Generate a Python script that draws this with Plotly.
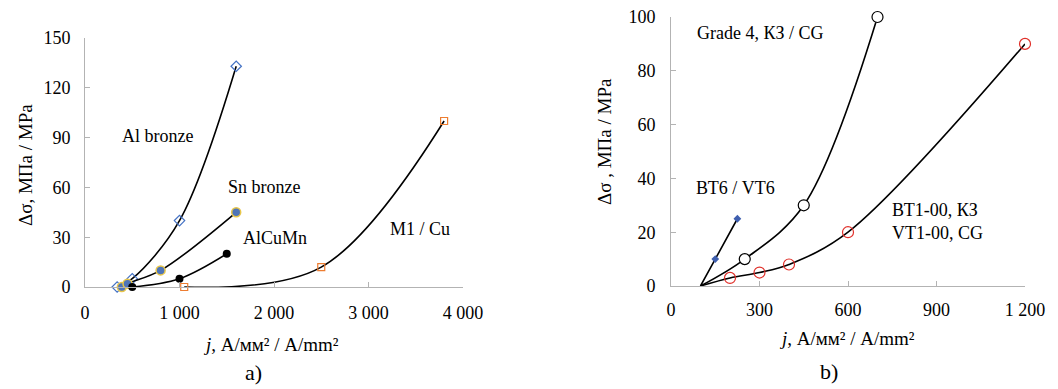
import plotly.graph_objects as go

# ---- left panel data (a) ----
al_j = [340, 500, 1000, 1600]
al_s = [0, 5, 40, 133]
sn_j = [390, 450, 800, 1600]
sn_s = [0, 2, 10, 45]
acm_j = [500, 1000, 1500]
acm_s = [0, 5, 20]
cu_j = [1050, 2500, 3800]
cu_s = [0, 12, 100]

# ---- right panel data (b) ----
vt6_j = [100, 150, 225]
vt6_s = [0, 10, 25]
g4_j = [100, 250, 450, 700]
g4_s = [0, 10, 30, 100]
vt1_j = [100, 200, 300, 400, 600, 1200]
vt1_s = [0, 3, 5, 8, 20, 90]

left_ticks = [0, 30, 60, 90, 120, 150]
left_xticks = [0, 1000, 2000, 3000, 4000]
right_ticks = [0, 20, 40, 60, 80, 100]
right_xticks = [0, 300, 600, 900, 1200]

W, H, OFF = 1058, 389, 8  # page body margin offset


def px(p):
    return (p - OFF) / W


def py(p):
    return (H - (p - OFF)) / H


FONT = "Liberation Serif"
LINE = dict(color="black", width=1.6, shape="spline", smoothing=1.0)

fig = go.Figure()


def curve(x, y, xa, ya, marker, skip_first=False):
    fig.add_trace(go.Scatter(x=x, y=y, mode="lines", line=LINE, xaxis=xa, yaxis=ya,
                             showlegend=False, hoverinfo="skip", cliponaxis=False))
    mx = x[1:] if skip_first else x
    my = y[1:] if skip_first else y
    fig.add_trace(go.Scatter(x=mx, y=my, mode="markers", marker=marker, xaxis=xa, yaxis=ya,
                             showlegend=False, cliponaxis=False))


curve(al_j, al_s, "x", "y", dict(symbol="diamond-open", size=8, color="#4472C4", line=dict(width=1.2)))
curve(sn_j, sn_s, "x", "y", dict(symbol="circle", size=9, color="#4F75B8", line=dict(width=1.5, color="#E8C64A")))
curve(acm_j, acm_s, "x", "y", dict(symbol="circle", size=8, color="black"))
curve(cu_j, cu_s, "x", "y", dict(symbol="square-open", size=7, color="#ED7D31", line=dict(width=1.2)))

curve(vt6_j, vt6_s, "x2", "y2", dict(symbol="diamond", size=6, color="#3F5FAF"), skip_first=True)
curve(g4_j, g4_s, "x2", "y2", dict(symbol="circle", size=11, color="white", line=dict(width=1.2, color="black")), skip_first=True)
curve(vt1_j, vt1_s, "x2", "y2", dict(symbol="circle-open", size=11, color="#E0302A", line=dict(width=1.2)), skip_first=True)

AX = dict(showgrid=False, zeroline=False, showline=True, linecolor="#b3b3b3", linewidth=1,
          ticks="inside", ticklen=5, tickcolor="#b3b3b3", automargin=False,
          ticklabeloverflow="allow",
          tickfont=dict(family=FONT, size=18, color="black"))

fig.update_layout(
    width=W, height=H, margin=dict(l=0, r=0, t=0, b=0, autoexpand=False),
    paper_bgcolor="white", plot_bgcolor="white",
    separators=". ",
    font=dict(family=FONT, color="black"),
    xaxis=dict(AX, domain=[px(85), px(463)], range=[0, 4000], tickvals=left_xticks,
               tickformat=",d", anchor="y", ticklabelstandoff=9),
    yaxis=dict(AX, domain=[py(287), py(38)], range=[0, 150], tickvals=left_ticks,
               anchor="x", ticklabelstandoff=10),
    xaxis2=dict(AX, domain=[px(671), px(1025)], range=[0, 1200], tickvals=right_xticks,
                tickformat=",d", anchor="y2", ticklabelstandoff=7),
    yaxis2=dict(AX, domain=[py(286), py(17)], range=[0, 100], tickvals=right_ticks,
                anchor="x2", ticklabelstandoff=11),
)


def note(text, x, y, xref="paper", yref="paper", size=18, xanchor="center", align="center", angle=0):
    if xref == "paper":
        x = px(x)
    if yref == "paper":
        y = py(y)
    fig.add_annotation(text=text, x=x, y=y, xref=xref, yref=yref, showarrow=False,
                       font=dict(family=FONT, size=size, color="black"), textangle=angle,
                       xanchor=xanchor, yanchor="middle", align=align)


# axis titles
note("<i>j</i>, А/мм² / A/mm²", 271, 344, size=19)
note("Δσ, МПа / MPa", 25, 165, size=19, angle=-90)
note("<i>j</i>, А/мм² / A/mm²", 847, 338, size=19)
note("Δσ , МПа / MPa", 605, 142, size=19, angle=-90)

# series labels
note("Al bronze", 762, 91, "x", "y")
note("Sn bronze", 1894, 60, "x", "y")
note("AlCuMn", 2010, 29.5, "x", "y")
note("M1 / Cu", 3545, 35, "x", "y")

note("Grade 4, КЗ / CG", 302, 94, "x2", "y2")
note("ВТ6 / VT6", 217, 36.4, "x2", "y2")
note("ВТ1-00, КЗ<br>VT1-00, CG", 742, 24, "x2", "y2", xanchor="left", align="left")

note("a)", 253, 372, size=22)
note("b)", 829, 371, size=22)

fig.write_html("out.html")
